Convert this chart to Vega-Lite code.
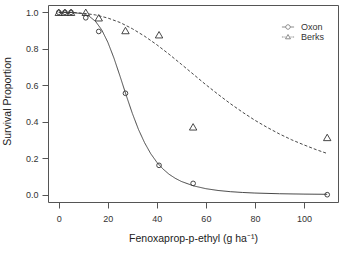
{
  "$schema": "https://vega.github.io/schema/vega-lite/v6.json",
  "width": 290,
  "height": 197,
  "autosize": "none",
  "padding": {"left": 48, "top": 5, "right": 3, "bottom": 53},
  "background": "white",
  "config": {
    "view": {"stroke": "#555555", "strokeWidth": 1},
    "font": "Liberation Sans",
    "axis": {
      "domain": false, "grid": false, "tickColor": "#555555", "tickSize": 6,
      "labelColor": "#333333", "labelFontSize": 9, "labelFont": "Liberation Sans",
      "titleColor": "#222222", "titleFontSize": 10.5, "titleFontWeight": "normal", "titleFont": "Liberation Sans"
    },
    "legend": {"labelFont": "Liberation Sans"}
  },
  "datasets": {
    "points": [
      {"series": "Oxon", "dose": 0, "p": 1.0},
      {"series": "Oxon", "dose": 2.5, "p": 1.0},
      {"series": "Oxon", "dose": 5, "p": 1.0},
      {"series": "Oxon", "dose": 11, "p": 0.97},
      {"series": "Oxon", "dose": 16.3, "p": 0.895},
      {"series": "Oxon", "dose": 27.2, "p": 0.556},
      {"series": "Oxon", "dose": 40.9, "p": 0.161},
      {"series": "Oxon", "dose": 54.8, "p": 0.062},
      {"series": "Oxon", "dose": 109.5, "p": 0.0},
      {"series": "Berks", "dose": 0, "p": 1.0},
      {"series": "Berks", "dose": 2.5, "p": 1.0},
      {"series": "Berks", "dose": 5, "p": 1.0},
      {"series": "Berks", "dose": 11, "p": 1.0},
      {"series": "Berks", "dose": 16.3, "p": 0.97},
      {"series": "Berks", "dose": 27.2, "p": 0.90},
      {"series": "Berks", "dose": 40.9, "p": 0.877},
      {"series": "Berks", "dose": 54.8, "p": 0.372},
      {"series": "Berks", "dose": 109.5, "p": 0.314}
    ],
    "curves": [
      {"series": "Oxon", "dose": 0, "p": 1.0},
      {"series": "Oxon", "dose": 5, "p": 0.9996},
      {"series": "Oxon", "dose": 10, "p": 0.9918},
      {"series": "Oxon", "dose": 12.5, "p": 0.9776},
      {"series": "Oxon", "dose": 15, "p": 0.95},
      {"series": "Oxon", "dose": 17.5, "p": 0.904},
      {"series": "Oxon", "dose": 20, "p": 0.836},
      {"series": "Oxon", "dose": 22.5, "p": 0.749},
      {"series": "Oxon", "dose": 25, "p": 0.649},
      {"series": "Oxon", "dose": 27.5, "p": 0.545},
      {"series": "Oxon", "dose": 30, "p": 0.446},
      {"series": "Oxon", "dose": 32.5, "p": 0.358},
      {"series": "Oxon", "dose": 35, "p": 0.285},
      {"series": "Oxon", "dose": 37.5, "p": 0.225},
      {"series": "Oxon", "dose": 40, "p": 0.178},
      {"series": "Oxon", "dose": 42.5, "p": 0.141},
      {"series": "Oxon", "dose": 45, "p": 0.112},
      {"series": "Oxon", "dose": 47.5, "p": 0.09},
      {"series": "Oxon", "dose": 50, "p": 0.0726},
      {"series": "Oxon", "dose": 55, "p": 0.0483},
      {"series": "Oxon", "dose": 60, "p": 0.033},
      {"series": "Oxon", "dose": 65, "p": 0.0231},
      {"series": "Oxon", "dose": 70, "p": 0.0166},
      {"series": "Oxon", "dose": 75, "p": 0.0122},
      {"series": "Oxon", "dose": 80, "p": 0.0091},
      {"series": "Oxon", "dose": 90, "p": 0.0053},
      {"series": "Oxon", "dose": 100, "p": 0.0033},
      {"series": "Oxon", "dose": 109.5, "p": 0.0022},
      {"series": "Berks", "dose": 0, "p": 1.0},
      {"series": "Berks", "dose": 5, "p": 0.9993},
      {"series": "Berks", "dose": 10, "p": 0.995},
      {"series": "Berks", "dose": 15, "p": 0.9855},
      {"series": "Berks", "dose": 20, "p": 0.9686},
      {"series": "Berks", "dose": 25, "p": 0.944},
      {"series": "Berks", "dose": 30, "p": 0.91},
      {"series": "Berks", "dose": 35, "p": 0.869},
      {"series": "Berks", "dose": 40, "p": 0.822},
      {"series": "Berks", "dose": 45, "p": 0.77},
      {"series": "Berks", "dose": 50, "p": 0.715},
      {"series": "Berks", "dose": 55, "p": 0.659},
      {"series": "Berks", "dose": 60, "p": 0.603},
      {"series": "Berks", "dose": 65, "p": 0.55},
      {"series": "Berks", "dose": 70, "p": 0.499},
      {"series": "Berks", "dose": 75, "p": 0.452},
      {"series": "Berks", "dose": 80, "p": 0.408},
      {"series": "Berks", "dose": 85, "p": 0.369},
      {"series": "Berks", "dose": 90, "p": 0.333},
      {"series": "Berks", "dose": 95, "p": 0.301},
      {"series": "Berks", "dose": 100, "p": 0.273},
      {"series": "Berks", "dose": 105, "p": 0.247},
      {"series": "Berks", "dose": 109.5, "p": 0.226}
    ],
    "legend": [
      {"series": "Oxon"},
      {"series": "Berks"}
    ]
  },
  "encoding": {
    "x": {
      "field": "dose", "type": "quantitative",
      "scale": {"domain": [-4.4, 113.9], "nice": false, "zero": false},
      "axis": {
        "values": [0, 20, 40, 60, 80, 100], "labelPadding": 6,
        "title": "Fenoxaprop-p-ethyl (g ha⁻¹)", "titlePadding": 10
      }
    },
    "y": {
      "field": "p", "type": "quantitative",
      "scale": {"domain": [-0.04, 1.04], "nice": false, "zero": false},
      "axis": {
        "values": [0, 0.2, 0.4, 0.6, 0.8, 1.0], "format": ".1f", "labelPadding": 4,
        "title": "Survival Proportion", "titleX": -36, "titleY": 96, "titleAngle": -90,
        "titleAlign": "center", "titleBaseline": "bottom"
      }
    }
  },
  "layer": [
    {
      "data": {"name": "curves"},
      "mark": {"type": "line", "color": "#333333", "strokeWidth": 0.9},
      "encoding": {
        "detail": {"field": "series"},
        "strokeDash": {
          "field": "series", "type": "nominal",
          "scale": {"domain": ["Oxon", "Berks"], "range": [[1, 0], [3, 2]]},
          "legend": null
        }
      }
    },
    {
      "data": {"name": "points"},
      "mark": {"type": "point", "filled": false, "color": "#333333", "strokeWidth": 0.9, "opacity": 1},
      "encoding": {
        "shape": {
          "field": "series", "type": "nominal",
          "scale": {"domain": ["Oxon", "Berks"], "range": ["circle", "triangle-up"]},
          "legend": null
        },
        "size": {
          "field": "series", "type": "nominal",
          "scale": {"domain": ["Oxon", "Berks"], "range": [22, 55]},
          "legend": null
        }
      }
    },
    {
      "data": {"name": "legend"},
      "transform": [{"filter": "false"}],
      "mark": {"type": "point", "filled": false, "color": "#333333", "strokeWidth": 0.8, "size": 81},
      "encoding": {
        "x": {"field": "dose", "type": "quantitative"},
        "y": {"field": "p", "type": "quantitative"},
        "shape": {
          "field": "series", "type": "nominal",
          "scale": {
            "domain": ["Oxon", "Berks"],
            "range": [
              "M-1.35,0H-0.5M0.5,0H1.35M0.5,0A0.5,0.5,0,1,1,-0.5,0A0.5,0.5,0,1,1,0.5,0",
              "M-1.35,0H-1M-0.8,0H-0.55M0.55,0H0.8M1,0H1.35M0,-0.55L0.55,0.4L-0.55,0.4Z"
            ]
          },
          "legend": {
            "title": null, "orient": "none", "legendX": 235, "legendY": 17,
            "labelFontSize": 9, "labelColor": "#333333", "labelOffset": 8,
            "rowPadding": -3, "padding": 0, "symbolStrokeColor": "#333333",
            "symbolFillColor": "transparent", "symbolStrokeWidth": 0.8, "symbolSize": 81
          }
        }
      }
    }
  ],
  "resolve": {"scale": {"shape": "independent", "size": "independent"}, "legend": {"shape": "independent"}}
}
